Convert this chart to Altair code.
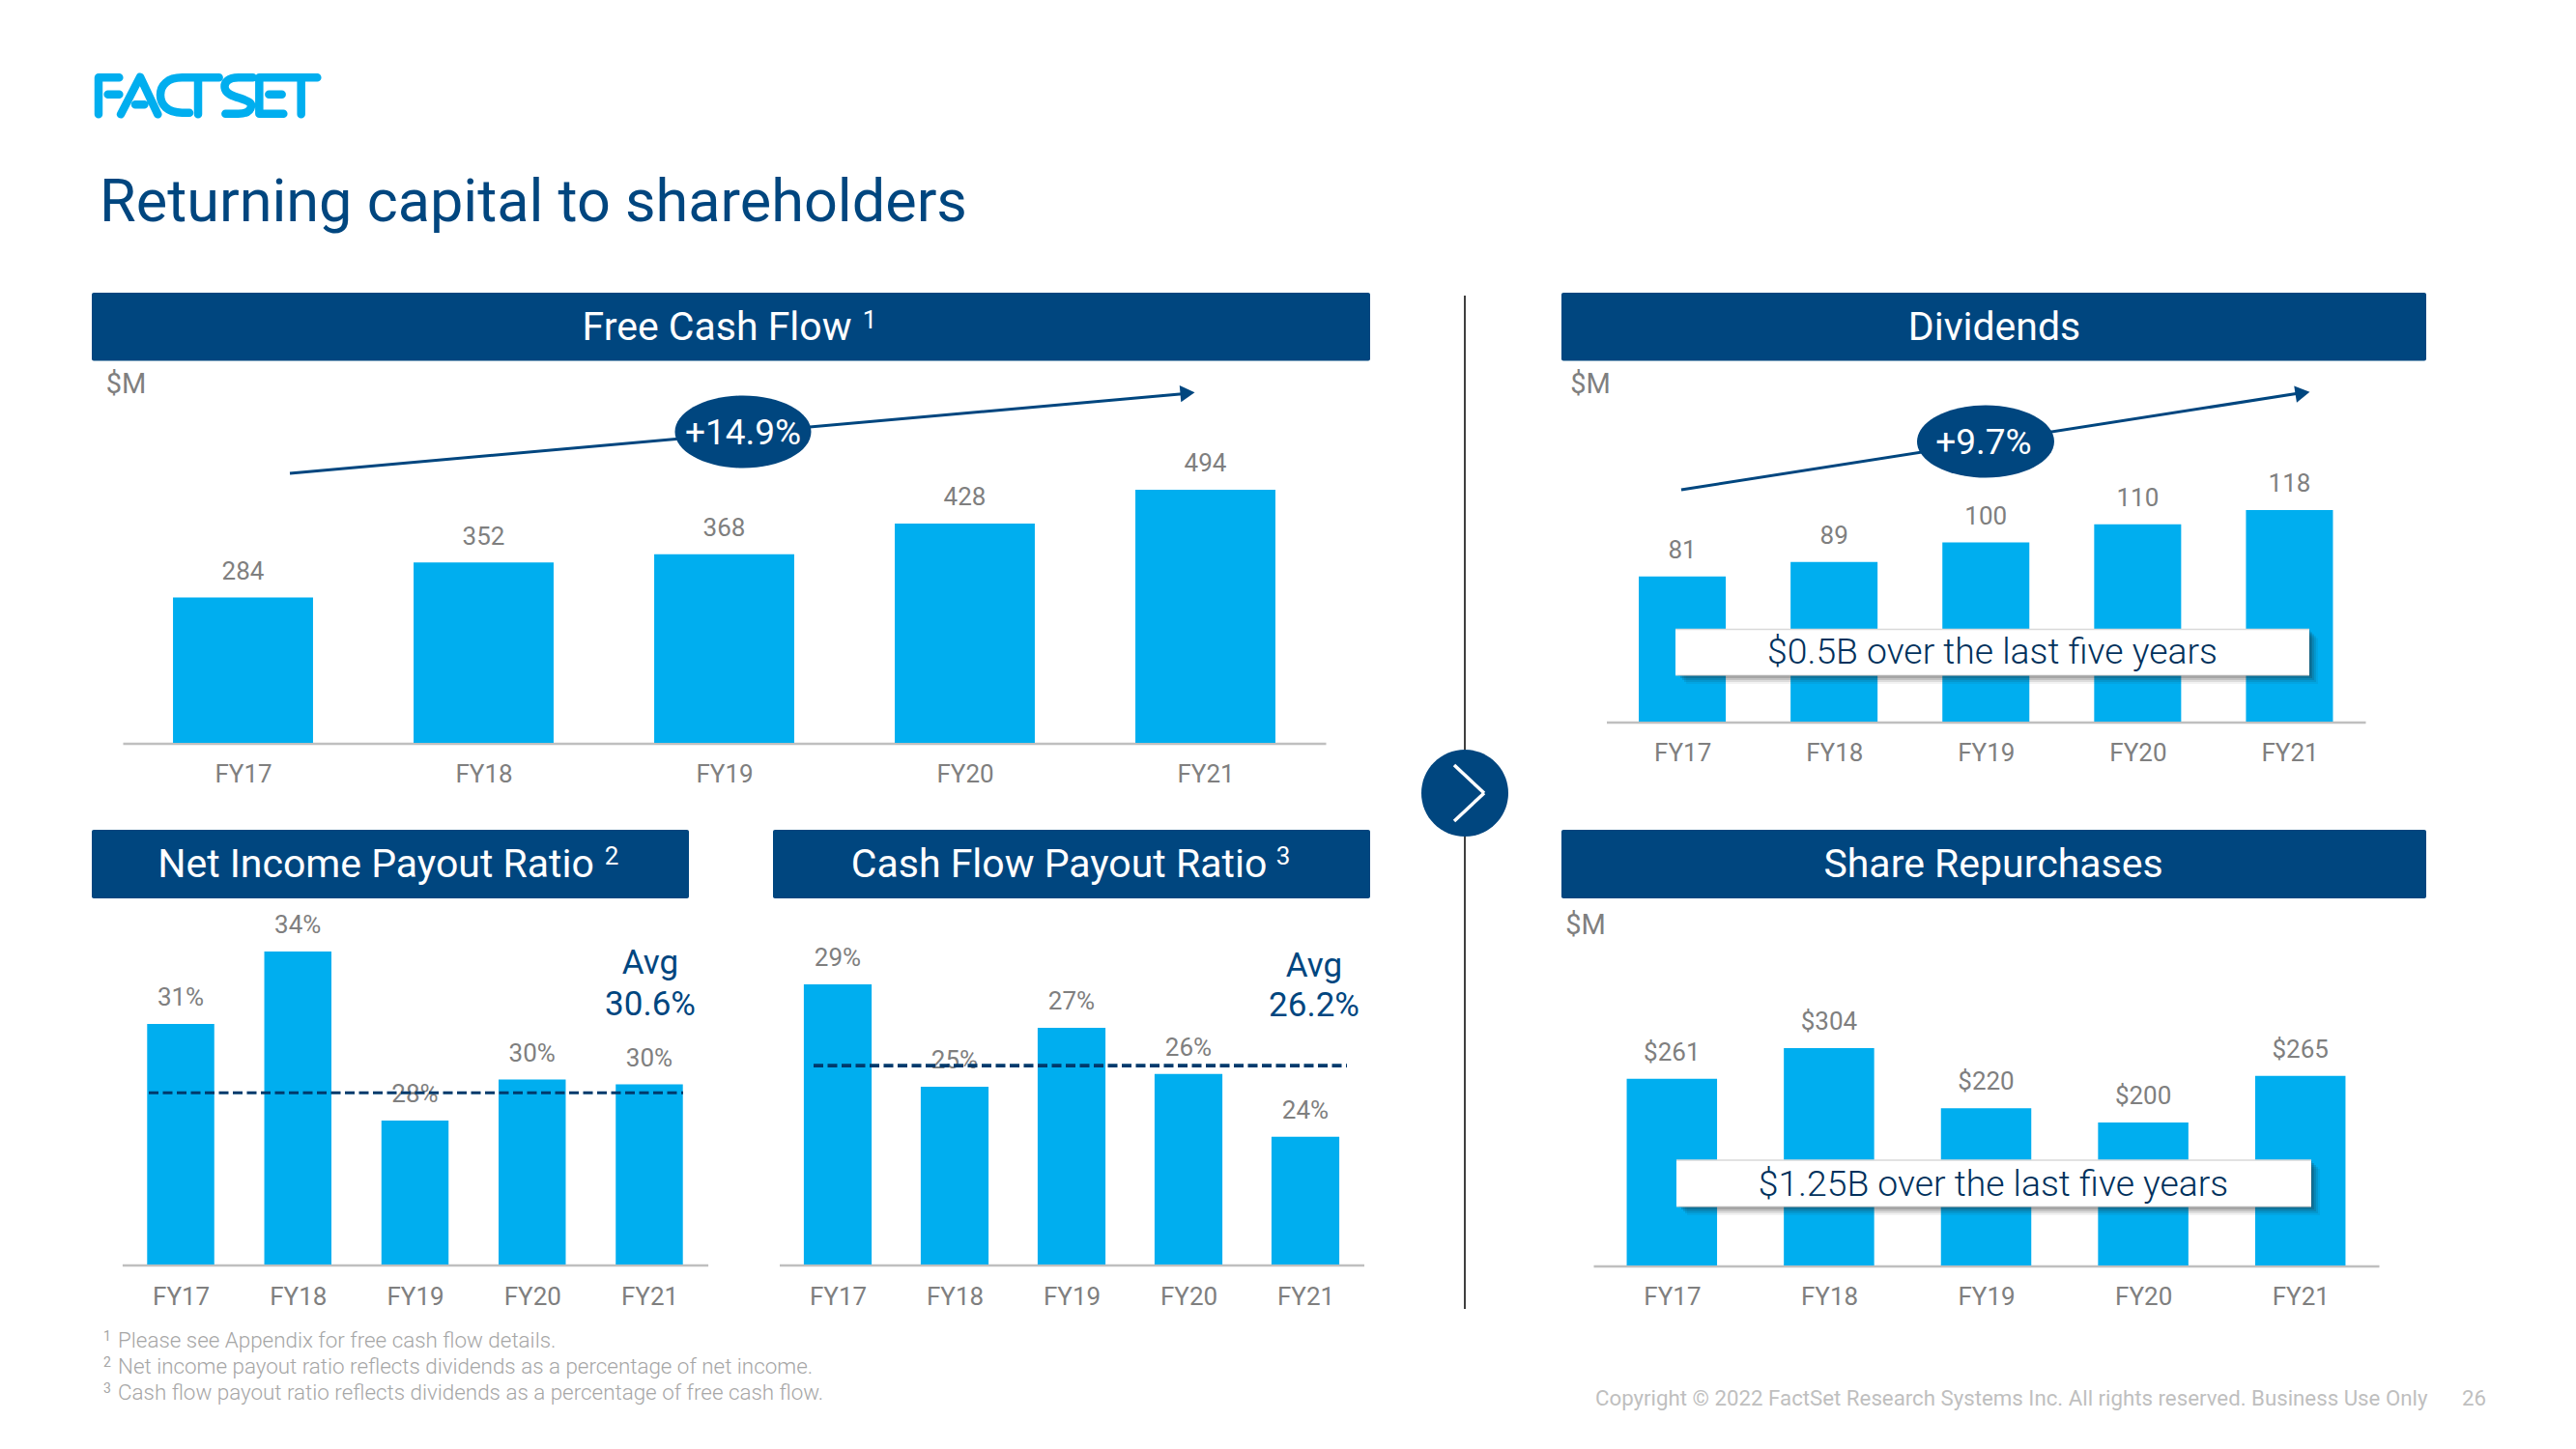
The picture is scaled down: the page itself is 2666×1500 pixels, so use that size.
import re
import altair as alt

W, H = 2650, 1484
NAVY = "#00467F"
BLUE = "#00AEEF"
GREY = "#7F7F7F"
FONT = "Roboto"

FY = ["FY17", "FY18", "FY19", "FY20", "FY21"]
fcf_values = [284, 352, 368, 428, 494]
div_values = [81, 89, 100, 110, 118]
rep_values = [261, 304, 220, 200, 265]
ni_labels = ["31%", "34%", "28%", "30%", "30%"]
ni_heights = [31.0, 34.0, 27.0, 28.7, 28.5]
ni_avg_drawn = [28.15]
cf_labels = ["29%", "25%", "27%", "26%", "24%"]
cf_heights = [29.0, 25.0, 27.3, 25.5, 23.05]
cf_avg_drawn = [25.83]
fcf_labels = [str(v) for v in fcf_values]
div_labels = [str(v) for v in div_values]
rep_labels = ["$" + str(v) for v in rep_values]
footnotes = [
    "Please see Appendix for free cash flow details.",
    "Net income payout ratio reflects dividends as a percentage of net income.",
    "Cash flow payout ratio reflects dividends as a percentage of free cash flow.",
]

# FactSet logo artwork, stroke outlines
LOGO = (
    "M100,46 L36,46 L36,160 M65,98 L100,98 "
    "M105,160 L165,44 L220,160 M150,130 L178,130 "
    "M318,155 L295,155 C250,155 228,130 228,100 C228,70 250,46 295,46 L410,46 M345,46 L345,160 "
    "M515,46 L470,46 C440,46 425,60 428,78 C430,95 450,103 475,110 C500,118 512,125 510,135 "
    "C508,150 495,158 470,158 L430,158 "
    "M535,158 L535,46 L715,46 M665,46 L665,160 M535,158 L610,158 M565,98 L605,98"
)

ONE = alt.Data(values=[{"k": 0}])


def X(p):
    return alt.value(p - 8)


def Y(p):
    return alt.value(p - 8)


def txt(s, x, y, size, color=GREY, weight=400, align="center"):
    return alt.Chart(ONE).mark_text(
        text=s, font=FONT, fontSize=size, color=color, fontWeight=weight,
        align=align, baseline="middle",
    ).encode(x=X(x), y=Y(y))


def box(x0, x1, y0, y1, color, opacity=1.0, radius=0):
    return alt.Chart(ONE).mark_rect(
        color=color, opacity=opacity, cornerRadius=radius
    ).encode(x=X(x0), x2=X(x1), y=Y(y0), y2=Y(y1))


def seg(x0, y0, x1, y1, color, width):
    return alt.Chart(ONE).mark_rule(color=color, strokeWidth=width).encode(
        x=X(x0), x2=X(x1), y=Y(y0), y2=Y(y1)
    )


def ellipse(cx, cy, rx, ry, color):
    r = ry / rx
    path = f"M-1,0A1,{r:.3f} 0 1,1 1,0A1,{r:.3f} 0 1,1 -1,0Z"
    return alt.Chart(ONE).mark_point(
        shape=path, filled=True, color=color, opacity=1, size=(2 * rx) ** 2, strokeWidth=0
    ).encode(x=X(cx), y=Y(cy))


def logo():
    cx, cy, half = 215, 98, 120

    def conv(m):
        zx, zy = float(m.group(1)), float(m.group(2))
        return f"{(zx / 3 + 90 - cx) / half:.4f},{(zy / 3 + 65 - cy) / half:.4f}"

    path = re.sub(r"(\d+),(\d+)", conv, LOGO).replace(" ", "")
    return alt.Chart(ONE).mark_point(
        shape=path, filled=False, stroke=BLUE, opacity=1, size=(2 * half) ** 2,
        strokeWidth=8.5, strokeCap="round", strokeJoin="round",
    ).encode(x=X(cx), y=Y(cy))


def panel(cats, vals, labels, x0, x1, y_base, y_top, dom, pad, offset=26.7, lab_pad=32):
    rows = [{"c": c, "v": v, "t": t} for c, v, t in zip(cats, vals, labels)]
    data = alt.Data(values=rows)
    xs = alt.Scale(domain=cats, range=[x0 - 8, x1 - 8], paddingInner=pad, paddingOuter=pad / 2)
    ys = alt.Scale(domain=dom, range=[y_base - 8, y_top - 8], clamp=True, nice=False, zero=False)
    bars = alt.Chart(data).mark_bar(color=BLUE).encode(
        x=alt.X("c:N", scale=xs, sort=None, title=None, axis=alt.Axis(
            orient="bottom", offset=(y_base + 0.5 - 8) - H, labelAngle=0, ticks=False, tickSize=0,
            grid=False, domainColor="#BFBFBF", domainWidth=2.5, labelFont=FONT, labelFontSize=26,
            labelColor=GREY, labelPadding=lab_pad, labelBaseline="middle", labelFontWeight=400,
            labelOffset=0.6,
        )),
        y=alt.Y("v:Q", scale=ys, axis=None),
    )
    text = alt.Chart(data).mark_text(
        font=FONT, fontSize=26, color=GREY, dy=-offset, baseline="middle", align="center"
    ).encode(
        x=alt.X("c:N", scale=xs, sort=None, axis=None),
        y=alt.Y("v:Q", scale=ys, axis=None),
        text="t:N",
    )
    return [bars, text], ys


def avg_rule(value, ys, x0, x1, width):
    return alt.Chart(alt.Data(values=[{"v": value}])).mark_rule(
        color="#003A6C", strokeWidth=width, strokeDash=[10, 4.5]
    ).encode(y=alt.Y("v:Q", scale=ys, axis=None), x=X(x0), x2=X(x1))


def shadow(x0, x1, y0, y1):
    return [box(x0 + 2 + d, x1 + d, y0 + d, y1 + d, "#202020", op)
            for d, op in [(9, 0.06), (7, 0.1), (5, 0.14), (3, 0.18), (1, 0.22)]]


layers = []

# logo and title
layers.append(logo())
layers.append(txt("Returning capital to shareholders", 103, 210.5, 61.2, NAVY, 400, "left"))

# headers
for (x0, x1, y0, y1) in [(95, 1418, 303, 373.5), (1616, 2511, 303, 373.5), (95, 713, 859, 930),
                         (800, 1418, 859, 930), (1616, 2511, 859, 930)]:
    layers.append(box(x0, x1, y0, y1, NAVY, radius=2))
layers += [
    txt("Free Cash Flow", 742, 339.5, 41, "white"),
    txt("1", 900, 332, 26, "white"),
    txt("Dividends", 2064, 339.5, 41, "white"),
    txt("Net Income Payout Ratio", 389, 895.5, 41, "white"),
    txt("2", 633, 887, 26, "white"),
    txt("Cash Flow Payout Ratio", 1096, 895.5, 41, "white"),
    txt("3", 1328, 887, 26, "white"),
    txt("Share Repurchases", 2063, 895.5, 41, "white"),
]

# free cash flow
ls, _ = panel(FY, fcf_values, fcf_labels, 127, 1372, 769, 507, [0, 494], 0.418)
layers += ls
layers.append(txt("$M", 130.5, 398, 29))
layers.append(seg(300, 490, 1232, 407, NAVY, 3))
layers.append(alt.Chart(ONE).mark_point(
    shape="triangle-right", filled=True, color=NAVY, opacity=1, size=300, angle=355, strokeWidth=0
).encode(x=X(1229), y=Y(407)))
layers.append(ellipse(769, 447, 70.5, 37.5, NAVY))
layers.append(txt("+14.9%", 769, 448.5, 37, "white"))

# dividends
ls, _ = panel(FY, div_values, div_labels, 1662.5, 2448, 747, 528, [0, 118], 0.427)
layers += ls
layers.append(txt("$M", 1646, 398, 29))
layers.append(seg(1740, 507, 2386, 406, NAVY, 3))
layers.append(alt.Chart(ONE).mark_point(
    shape="triangle-right", filled=True, color=NAVY, opacity=1, size=300, angle=351, strokeWidth=0
).encode(x=X(2383), y=Y(407)))
layers.append(ellipse(2055, 457, 71, 37.5, NAVY))
layers.append(txt("+9.7%", 2053, 458.5, 37, "white"))
layers += shadow(1734, 2390, 651.5, 699)
layers.append(box(1734, 2390, 651.5, 699, "white"))
layers.append(seg(1734, 651.5, 2390, 651.5, "#D9D9D9", 1.5))
layers.append(seg(1734, 699, 2390, 699, "#D9D9D9", 1))
layers.append(txt("$0.5B over the last five years", 2062, 676, 37.3, "#00315C", 300))

# net income payout
ls, ys = panel(FY, ni_heights, ni_labels, 126.4, 732.6, 1309, 985, [21.04, 34.0], 0.427, lab_pad=33)
layers += ls
layers.append(avg_rule(ni_avg_drawn[0], ys, 154, 707, 3.2))
layers.append(txt("Avg", 673, 997, 35, NAVY))
layers.append(txt("30.6%", 673, 1039.5, 35, NAVY))

# cash flow payout
ls, ys = panel(FY, cf_heights, cf_labels, 806.5, 1411.5, 1309, 1019, [18.06, 29.0], 0.42, lab_pad=33)
layers += ls
layers.append(avg_rule(cf_avg_drawn[0], ys, 842, 1394, 3.8))
layers.append(txt("Avg", 1360, 1000, 35, NAVY))
layers.append(txt("26.2%", 1360, 1040.5, 35, NAVY))

# share repurchases
ls, _ = panel(FY, rep_values, rep_labels, 1649, 2462, 1310, 1085, [0, 304], 0.425, 27)
layers += ls
layers.append(txt("$M", 1641, 958, 29))
layers += shadow(1735, 2392, 1201, 1249)
layers.append(box(1735, 2392, 1201, 1249, "white"))
layers.append(seg(1735, 1201, 2392, 1201, "#D9D9D9", 1.5))
layers.append(seg(1735, 1249, 2392, 1249, "#D9D9D9", 1))
layers.append(txt("$1.25B over the last five years", 2063, 1226.5, 37.3, "#00315C", 300))

# divider and chevron
layers.append(seg(1516, 306, 1516, 1355, "#404040", 2))
layers.append(ellipse(1516, 821, 45, 45, NAVY))
layers.append(seg(1505, 792, 1536, 821, "white", 3.5))
layers.append(seg(1536, 821, 1505, 850, "white", 3.5))

# footnotes and footer
for i, (s, yy, ys2) in enumerate(zip(footnotes, [1387.5, 1414.5, 1441.5], [1384, 1411, 1438])):
    layers.append(txt(str(i + 1), 107, ys2, 14, "#A6A6A6", 400, "left"))
    layers.append(txt(s, 122, yy, 22.4, "#A6A6A6", 300, "left"))
layers.append(txt("Copyright © 2022 FactSet Research Systems Inc. All rights reserved. Business Use Only",
                  1651, 1448, 22.25, "#BFBFBF", 400, "left"))
layers.append(txt("26", 2548, 1448, 22.25, "#BFBFBF", 400, "left"))

chart = alt.layer(*layers).resolve_scale(x="independent", y="independent").resolve_axis(
    x="independent", y="independent"
).properties(
    width=W, height=H, padding=0, background="white", autosize=alt.AutoSizeParams(type="none")
).configure_view(stroke=None)

chart.save("out.html", embed_options={"renderer": "svg", "actions": False})
